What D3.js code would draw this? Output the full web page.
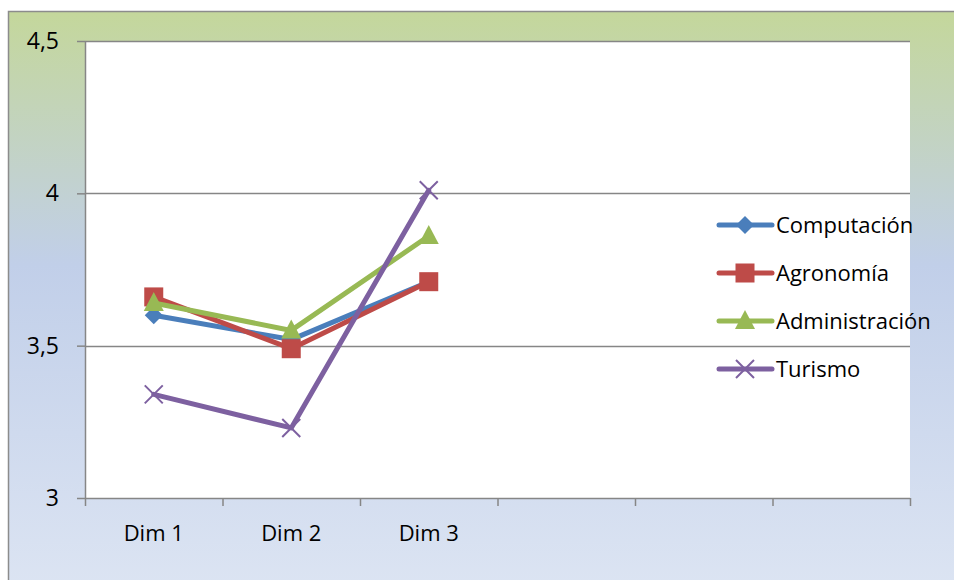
<!DOCTYPE html>
<html>
<head>
<meta charset="utf-8">
<script src="https://cdn.jsdelivr.net/npm/d3@7"></script>
<style>
  html, body { margin: 0; padding: 0; background: #ffffff; }
  svg { display: block; }
  text { font-family: "Open Sans", Lato, sans-serif; fill: #000; }
</style>
</head>
<body>
<svg id="chart" width="954" height="580"></svg>
<script>
// Categories along the x axis (three named, three empty slots)
const categories = ["Dim 1", "Dim 2", "Dim 3", "c4", "c5", "c6"];
const categoryLabels = ["Dim 1", "Dim 2", "Dim 3", "", "", ""];

// Series values per dimension
const computacion    = [3.60, 3.52, 3.71];
const agronomia      = [3.66, 3.49, 3.71];
const administracion = [3.64, 3.55, 3.86];
const turismo        = [3.34, 3.23, 4.01];

const seriesNames = ["Computación", "Agronomía", "Administración", "Turismo"];
const seriesColors = ["#4a7ebb", "#be4b48", "#98b954", "#7d60a0"];
const seriesMarkers = ["diamond", "square", "triangle", "cross"];

// Y axis ticks and labels
const yTicks = [3, 3.5, 4, 4.5];
const yTickLabels = ["3", "3,5", "4", "4,5"];

const series = [computacion, agronomia, administracion, turismo].map((values, i) => ({
  name: seriesNames[i], color: seriesColors[i], marker: seriesMarkers[i], values
}));

const svg = d3.select("#chart");

// Chart area background gradient
const defs = svg.append("defs");
const grad = defs.append("linearGradient").attr("id", "bg").attr("x1", 0).attr("y1", 0).attr("x2", 0).attr("y2", 1);
grad.append("stop").attr("offset", "0%").attr("stop-color", "#c4d79b");
grad.append("stop").attr("offset", "43%").attr("stop-color", "#c1cfe9");
grad.append("stop").attr("offset", "100%").attr("stop-color", "#dde5f3");

svg.append("rect")
  .attr("x", 8.5).attr("y", 11.5).attr("width", 960).attr("height", 590)
  .attr("fill", "url(#bg)").attr("stroke", "#8c8c8c").attr("stroke-width", 1.5);

const plot = { left: 85, right: 910, top: 41, bottom: 498 };

const x = d3.scaleBand().domain(categories).range([plot.left, plot.right]);
const y = d3.scaleLinear().domain([3, 4.5]).range([plot.bottom, plot.top]);

// Plot area
svg.append("rect")
  .attr("x", plot.left).attr("y", plot.top)
  .attr("width", plot.right - plot.left).attr("height", plot.bottom - plot.top)
  .attr("fill", "#ffffff");

// Horizontal gridlines
svg.append("g").selectAll("line").data(yTicks.filter(t => t !== 3)).join("line")
  .attr("x1", plot.left).attr("x2", plot.right)
  .attr("y1", d => Math.round(y(d)) + 0.5).attr("y2", d => Math.round(y(d)) + 0.5)
  .attr("stroke", "#868686").attr("stroke-width", 1.5);

// Y axis
const yAxis = d3.axisLeft(y).tickValues(yTicks)
  .tickFormat((d, i) => yTickLabels[i]).tickSize(8).tickPadding(18);
const gy = svg.append("g").attr("transform", `translate(${plot.left},0)`).call(yAxis);
gy.select(".domain").attr("stroke", "#868686").attr("stroke-width", 1.5)
  .attr("d", `M0.5,${plot.top}V${plot.bottom}`);
gy.selectAll(".tick line").attr("stroke", "#868686").attr("stroke-width", 1.5);
gy.selectAll(".tick text").attr("font-size", 23).attr("font-family", "'Open Sans', sans-serif").attr("fill", "#000");

// X axis with ticks at category boundaries
const gx = svg.append("g").attr("transform", `translate(0,${plot.bottom})`);
gx.append("line").attr("x1", plot.left).attr("x2", plot.right).attr("y1", 0.5).attr("y2", 0.5)
  .attr("stroke", "#868686").attr("stroke-width", 1.5);
const boundaries = categories.map(c => x(c)).concat([plot.right]);
gx.selectAll("line.tk").data(boundaries).join("line").attr("class", "tk")
  .attr("x1", d => d + 0.5).attr("x2", d => d + 0.5).attr("y1", 0).attr("y2", 8)
  .attr("stroke", "#868686").attr("stroke-width", 1.5);
gx.selectAll("text").data(categories).join("text")
  .attr("x", d => x(d) + x.bandwidth() / 2).attr("y", 43)
  .attr("text-anchor", "middle").attr("font-size", 22)
  .text((d, i) => categoryLabels[i]);

// Marker drawing
function drawMarker(g, type, color) {
  if (type === "diamond") {
    g.append("path").attr("d", "M0,-9L9,0L0,9L-9,0Z").attr("fill", color);
  } else if (type === "square") {
    g.append("rect").attr("x", -9.5).attr("y", -9.5).attr("width", 19).attr("height", 19).attr("fill", color);
  } else if (type === "triangle") {
    g.append("path").attr("d", "M0,-11L10,8L-10,8Z").attr("fill", color);
  } else if (type === "cross") {
    g.append("path").attr("d", "M-9,-9L9,9M-9,9L9,-9").attr("stroke", color).attr("stroke-width", 2).attr("fill", "none");
  }
}

const line = d3.line()
  .x((d, i) => x(categories[i]) + x.bandwidth() / 2)
  .y(d => y(d));

// Series lines and markers
series.forEach(s => {
  const g = svg.append("g");
  g.append("path").datum(s.values).attr("d", line)
    .attr("fill", "none").attr("stroke", s.color).attr("stroke-width", 5)
    .attr("stroke-linejoin", "round").attr("stroke-linecap", "round");
  s.values.forEach((v, i) => {
    const m = g.append("g").attr("transform", `translate(${x(categories[i]) + x.bandwidth() / 2},${y(v)})`);
    drawMarker(m, s.marker, s.color);
  });
});

// Legend
const legend = svg.append("g").attr("transform", "translate(717,225)");
series.forEach((s, i) => {
  const row = legend.append("g").attr("transform", `translate(0,${i * 48})`);
  row.append("line").attr("x1", 2).attr("x2", 55).attr("y1", 0).attr("y2", 0)
    .attr("stroke", s.color).attr("stroke-width", 5).attr("stroke-linecap", "round");
  const m = row.append("g").attr("transform", "translate(28,0)");
  drawMarker(m, s.marker, s.color);
  row.append("text").attr("x", 59).attr("y", 8).attr("font-size", 22).text(s.name);
});
</script>
</body>
</html>
